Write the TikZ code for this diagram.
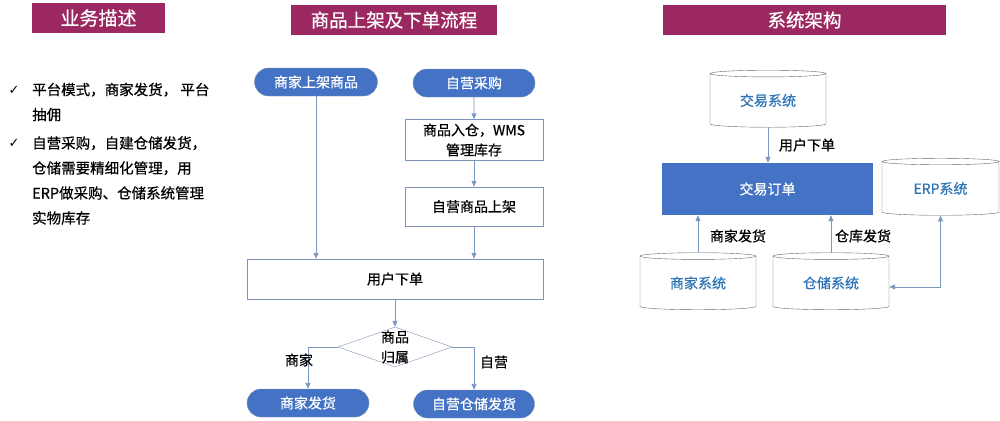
\documentclass[tikz,border=0pt]{standalone}
\usepackage{fontspec}
\setmainfont{Noto Sans CJK SC}[FakeBold=0.6]
\newfontfamily\symfont{DejaVu Sans}
\usetikzlibrary{shapes.geometric,shapes.misc,arrows.meta}
\definecolor{titlepurple}{RGB}{155,40,96}
\definecolor{flowblue}{RGB}{68,114,196}
\definecolor{linkblue}{RGB}{122,152,192}
\definecolor{edgeblue}{RGB}{125,148,184}
\definecolor{sysblue}{RGB}{46,117,182}
\tikzset{
  titlebar/.style={fill=titlepurple, text=white, inner sep=0pt, font=\fontsize{18.5}{20}\selectfont},
  pill/.style={rounded rectangle, fill=flowblue, draw=edgeblue, text=white, minimum width=123pt, minimum height=28pt, inner sep=0pt, font=\fontsize{14}{16}\selectfont},
  flowbox/.style={rectangle, draw=edgeblue, fill=white, minimum width=138pt, inner sep=0pt, align=center, font=\fontsize{14}{20}\selectfont},
  dbox/.style={cylinder, shape border rotate=90, aspect=0.12, draw=black!60, fill=white, text=sysblue, minimum width=116pt, minimum height=57pt, inner sep=0pt, font=\fontsize{14}{16}\selectfont},
  link/.style={draw=linkblue, line width=0.9pt, -{Triangle[length=6pt,width=5pt]}},
  plain/.style={font=\fontsize{14}{16}\selectfont, inner sep=0pt}
}
\begin{document}
\begin{tikzpicture}[x=1pt,y=-1pt]
  \useasboundingbox (0,0) rectangle (1000,420);

  \node[titlebar, minimum width=133pt, minimum height=30pt, font=\fontsize{19}{20}\selectfont] (tdesc) at (98.5,18) {业务描述};
  \node[titlebar, minimum width=206pt, minimum height=30pt] (tflow) at (394,20) {商品上架及下单流程};
  \node[titlebar, minimum width=283pt, minimum height=30pt] (tsys) at (804.5,20) {系统架构};

  \foreach \y in {90,143}
    \node[font=\symfont\fontsize{13}{13}\selectfont, inner sep=0pt] at (14,\y) {✓};
  \node[plain, anchor=west, align=left, font=\fontsize{14.5}{25}\selectfont] (item1) at (32,102)
    {平台模式，商家发货， 平台\\抽佣};
  \node[plain, anchor=west, align=left, font=\fontsize{14.5}{25}\selectfont] (item2) at (32,180.5)
    {自营采购，自建仓储发货，\\仓储需要精细化管理，用\\ERP做采购、仓储系统管理\\实物库存};

  \node[pill] (mpill) at (316,82) {商家上架商品};
  \node[pill, minimum width=122pt] (spill) at (474,83) {自营采购};
  \node[flowbox, minimum height=41pt] (inbox) at (474,140) {商品入仓，WMS\\管理库存};
  \node[flowbox, minimum height=39pt] (shelf) at (474,206.5) {自营商品上架};
  \node[flowbox, minimum width=296pt, minimum height=40pt] (order) at (395,279) {用户下单};
  \node[diamond, draw=edgeblue, fill=white, minimum width=114pt, minimum height=40pt, inner sep=0pt] (belong) at (395,347) {};
  \node[plain, align=center, font=\fontsize{14}{20}\selectfont] at (belong) {商品\\归属};
  \node[pill, minimum width=122pt] (mship) at (308,403) {商家发货};
  \node[pill, minimum width=121pt] (sship) at (474,404) {自营仓储发货};

  \draw[link] (mpill.south) -- (mpill.south |- order.north);
  \draw[link] (spill) -- (inbox);
  \draw[link] (inbox) -- (shelf);
  \draw[link] (shelf.south) -- (shelf.south |- order.north);
  \draw[link] (order) -- (belong);
  \draw[link] (belong.west) -| (mship.north);
  \draw[link] (belong.east) -| (sship.north);
  \node[plain] at (299,360) {商家};
  \node[plain] at (494,362) {自营};

  \node[dbox] (trade) at (768,100.5) {交易系统};
  \node[rectangle, fill=flowblue, text=white, minimum width=211pt, minimum height=52pt, inner sep=0pt, font=\fontsize{14}{16}\selectfont] (torder) at (767.5,189) {交易订单};
  \node[dbox, minimum width=117pt] (erp) at (940.5,188.5) {ERP系统};
  \node[dbox] (msys) at (698,283) {商家系统};
  \node[dbox] (wsys) at (831,283) {仓储系统};

  \draw[link] (trade.south) -- (trade.south |- torder.north);
  \node[plain] at (807,145) {用户下单};
  \draw[link] (msys.north) -- (msys.north |- torder.south);
  \node[plain] at (738,236) {商家发货};
  \draw[link] (wsys.north) -- (wsys.north |- torder.south);
  \node[plain] at (863,236) {仓库发货};
  \draw[link, {Triangle[length=6pt,width=5pt]}-{Triangle[length=6pt,width=5pt]}] (erp.south) |- ([yshift=-4pt]wsys.east);
\end{tikzpicture}
\end{document}
